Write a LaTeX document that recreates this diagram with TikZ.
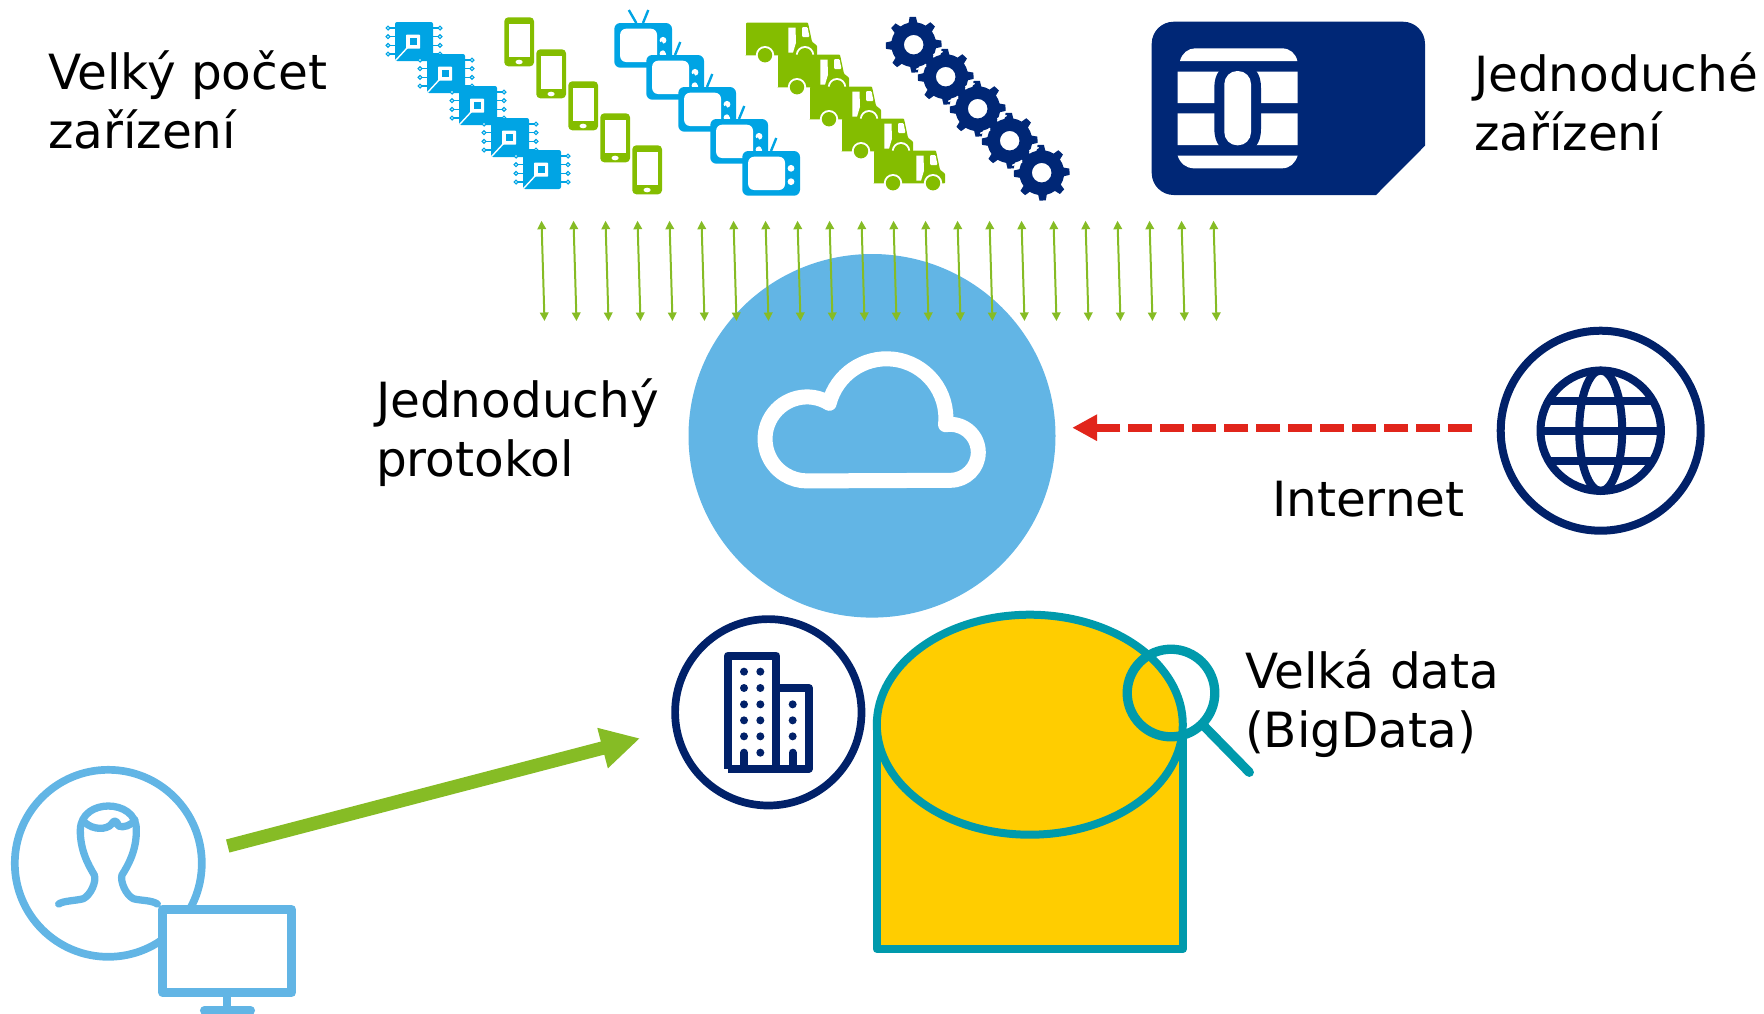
\documentclass[tikz,border=0pt]{standalone}
\usepackage{fontspec}
\setmainfont{DejaVu Sans}
\usetikzlibrary{arrows.meta,shapes.geometric}
\definecolor{navy}{HTML}{002776}
\definecolor{ink}{HTML}{012169}
\definecolor{chipblue}{HTML}{00A4E4}
\definecolor{lime}{HTML}{84BD00}
\definecolor{leaf}{HTML}{86BC25}
\definecolor{sky}{HTML}{62B5E5}
\definecolor{teal2}{HTML}{009AAC}
\definecolor{gold}{HTML}{FFCD00}
\definecolor{alert}{HTML}{E1251B}
\tikzset{
 every node/.style={outer sep=0pt},
 label text/.style={font=\fontsize{48.5}{58.5}\selectfont,anchor=north west,align=left,inner sep=0pt,text=black},
 thin arrow/.style={draw=leaf,line width=2pt,{Triangle[length=8.5pt,width=8.5pt]}-{Triangle[length=8.5pt,width=8.5pt]}},
 chip/.pic={
  \fill[chipblue,rounded corners=2pt] (0,39) -- (0,0) -- (38,0) -- (38,39) -- cycle;
  \foreach \yy in {6,14.7,23.3,32}{
   \draw[chipblue,line width=1.2pt] (0,\yy) -- (-5,\yy) (38,\yy) -- (43,\yy);
   \draw[chipblue,fill=white,line width=1.2pt] (-7,\yy) circle[radius=1.9] (45,\yy) circle[radius=1.9];}
  \fill[white,rounded corners=.6pt] (11,12.7) rectangle (25,26.7);
  \fill[chipblue] (15,16) rectangle (21.7,22.7);
  \draw[white,line width=1.4pt] (13,25) -- (0.5,38.5);
 },
 phone/.pic={
  \fill[lime,rounded corners=4pt] (0,0) rectangle (29.7,49);
  \fill[white] (4.3,6.7) rectangle (25.3,39.3);
  \fill[white] (14.8,44.7) ellipse[x radius=3.6,y radius=2.3];
 },
 tv/.pic={
  \draw[chipblue,line width=2.4pt] (22,0) -- (14.5,-13) (28.7,0) -- (34,-13);
  \fill[chipblue,rounded corners=6pt] (0,0) rectangle (57.7,44.7);
  \fill[white,rounded corners=6pt] (5.8,5.7) rectangle (42.7,39);
  \fill[white] (48.7,17.3) circle[radius=3.4] (48.7,30.7) circle[radius=3.4];
 },
 truck/.pic={
  \fill[lime,rounded corners=.8pt] (0,32.7) -- (1.2,32.7) -- (1.2,0) -- (63,0) -- (67,19) -- (72,23) -- (72,32.7) -- cycle;
  \fill[white] (43.3,5) -- (50.5,5) -- (51,20) -- (48,30) -- (43.3,30) -- cycle;
  \fill[white,rounded corners=1pt] (57,4.3) -- (62.5,4.3) -- (64.5,14.3) -- (57,14.3) -- cycle;
  \fill[white] (20,32.5) circle[radius=9.2] (60,32.5) circle[radius=9.2];
  \fill[lime] (20,32.5) circle[radius=7.2] (60,32.5) circle[radius=7.2];
 },
 gear/.pic={
  \fill[navy,even odd rule]
   (-13:22.5)
   \foreach \aa in {-2,43,...,313}{
     -- (\aa-11:22.5) -- (\aa-6.5:28) -- (\aa+6.5:28) -- (\aa+11:22.5)
     arc[start angle=\aa+11,end angle=\aa+34,radius=22.5]
   } -- cycle
   (0,0) circle[radius=9.8];
 },
}
\begin{document}
\begin{tikzpicture}[x=1pt,y=1pt,yscale=-1]
\useasboundingbox (0,0) rectangle (1764,1013);
% labels
\node[label text] (lblMany) at (48,51) {Velký počet\\zařízení};
\node[label text] (lblSimple) at (1474,53) {Jednoduché\\zařízení};
\node[label text] (lblProto) at (376,379) {Jednoduchý\\protokol};
\node[label text] (lblNet) at (1272,481) {Internet};
\node[label text] (lblBig) at (1245,650) {Velká data\\(BigData)};
% device rows
\foreach \i in {0,...,4}{
 \pic[yscale=-1] at (395+32*\i,22+32*\i) {chip};
 \pic[yscale=-1] at (504.3+32*\i,17.3+32*\i) {phone};
 \pic[yscale=-1] at (614.3+32*\i,23+32*\i) {tv};
 \pic[yscale=-1] at (745+32*\i,22.7+32*\i) {truck};
}
\foreach \i in {0,...,4}{ \pic[yscale=-1] at (913.7+32*\i,44.7+32*\i) {gear}; }
\foreach \i in {0,...,3}{
 \draw[white,line width=1.5pt,line cap=round] (913.7+32*\i+20,44.7+32*\i+10) -- (913.7+32*\i+28.5,44.7+32*\i+7);
 \draw[white,line width=1.5pt,line cap=round] (913.7+32*\i+3,44.7+32*\i+24.5) -- (913.7+32*\i+12,44.7+32*\i+21.5);
}
% SIM
\fill[navy] (1173.7,21.7) -- (1403,21.7) arc[start angle=-90,end angle=0,radius=22] -- (1425,145.7) -- (1376,195) -- (1173.7,195) arc[start angle=90,end angle=180,radius=22] -- (1151.7,43.7) arc[start angle=180,end angle=270,radius=22] -- cycle;
\begin{scope}[shift={(1130,0)},scale=.33333]
 \fill[white] (150,183) .. controls (155,160) and (175,145) .. (195,145) -- (455,145) .. controls (480,145) and (497,160) .. (502,183) -- cycle;
 \fill[white] (143,215) rectangle (503,309) (143,340) rectangle (503,435);
 \fill[white] (143,467) -- (503,467) .. controls (495,490) and (480,505) .. (455,505) -- (190,505) .. controls (170,505) and (150,490) .. (143,467) -- cycle;
 \fill[navy] (268,212) .. controls (258,225) and (253,240) .. (253,265) -- (253,385) .. controls (253,410) and (258,425) .. (268,438) -- (378,438) .. controls (388,425) and (393,410) .. (393,385) -- (393,265) .. controls (393,240) and (388,225) .. (378,212) -- cycle;
 \fill[white,rounded corners=13pt] (283,213) rectangle (363,436);
\end{scope}
% central circle and cloud
\node[ellipse,fill=sky,minimum width=367pt,minimum height=363.6pt,inner sep=0pt] (hub) at (872,435.8) {};
\draw[white,line width=15pt,line join=round,line cap=round] (829.3,403.3) arc[start angle=-58,end angle=-270,radius=42] -- (950.3,480.3) arc[start angle=90,end angle=-98,radius=28] (945.5,424.7) arc[start angle=6.4,end angle=-165.4,radius=59.3];
% thin arrows
\foreach \i in {0,...,21}{
 \coordinate (tt\i) at (541.5+32*\i,220.7);
 \coordinate (bb\i) at (544.5+32*\i,321);
 \draw[thin arrow] (tt\i) -- (bb\i);
}
% globe
\node[circle,draw=ink,line width=8pt,minimum size=200pt,inner sep=0pt] (globeRing) at (1600.7,430.7) {};
\begin{scope}[ink,line width=8pt]
 \begin{scope}
  \clip (1600.7,430.7) circle[radius=60];
  \draw (1530,400.7) -- (1670,400.7) (1530,430.7) -- (1670,430.7) (1530,460.7) -- (1670,460.7);
 \end{scope}
 \draw (1600.7,430.7) circle[radius=60.2];
 \draw (1600.7,430.7) ellipse[x radius=21.5,y radius=60.2];
\end{scope}
% red arrow
\coordinate (redStart) at (1472.3,427.7);
\draw[alert,line width=8pt,dash pattern=on 24pt off 8pt,shorten >=16.7pt,-{Triangle[length=25pt,width=25pt]}] (redStart) -- (hub.east |- redStart);
% building
\node[circle,draw=ink,line width=7.7pt,minimum size=186.4pt,inner sep=0pt] (bldRing) at (768.3,712.3) {};
\begin{scope}[shift={(660,600)},scale=.33333]
 \draw[ink,line width=8pt,line join=round] (204,506) -- (204,167) -- (349,167) -- (349,506) (349,264) -- (447,264) -- (447,506) -- (204,506);
 \foreach \yy in {215,264,313,361,409}{ \fill[ink] (252,\yy) circle[radius=12] (301,\yy) circle[radius=12]; }
 \fill[ink] (301,458) circle[radius=12];
 \foreach \yy in {313,361,409}{ \fill[ink] (398,\yy) circle[radius=12]; }
 \draw[ink,line width=8pt,line cap=round] (252,458) -- (252,500) (398,458) -- (398,500);
\end{scope}
% data
\fill[gold] (876.7,949) rectangle (1183,733);
\draw[teal2,line width=8pt,line join=round] (876.7,733) -- (876.7,949) -- (1183,949) -- (1183,733);
\draw[teal2,fill=gold,line width=8pt] (1029.8,724.7) ellipse[x radius=153,y radius=110];
\node[circle,draw=teal2,line width=9.3pt,minimum size=87.6pt,inner sep=0pt] (lens) at (1171,693) {};
\coordinate (handleEnd) at (1249.3,772.3);
\draw[teal2,line width=9.3pt,line cap=round] (lens.-45) -- (handleEnd);
% user
\node[circle,draw=sky,line width=7.7pt,minimum size=187pt,inner sep=0pt] (userRing) at (108.3,863.3) {};
\begin{scope}[shift={(0,750)},scale=.33333]
 \draw[sky,line width=7.3pt,line cap=round,line join=round] (176,462) .. controls (190,452) and (230,452) .. (250,446) .. controls (272,435) and (290,395) .. (283,375) .. controls (265,345) and (240,300) .. (241,240) .. controls (242,190) and (285,168) .. (325,168) .. controls (365,168) and (410,190) .. (409,240) .. controls (410,300) and (385,345) .. (366,375) .. controls (360,395) and (378,435) .. (400,446) .. controls (420,452) and (455,450) .. (472,462);
 \draw[sky,line width=7.3pt,line cap=round,line join=round] (255,218) .. controls (280,240) and (320,240) .. (335,222) .. controls (345,205) and (352,215) .. (355,228) .. controls (370,235) and (395,225) .. (405,210);
 \draw[sky,fill=white,line width=8.7pt,line join=round] (488,478) rectangle (875,728);
 \draw[sky,line width=8.7pt] (681,728) -- (681,782);
 \draw[sky,line width=8.7pt,line cap=round] (613,782) -- (752,782);
\end{scope}
% green arrow
\coordinate (greenStart) at (227.7,846);
\coordinate (greenEnd) at (640,738.3);
\draw[leaf,line width=13.5pt,-{Triangle[length=38.7pt,width=38.9pt]}] (greenStart) -- (greenEnd);
\end{tikzpicture}
\end{document}
